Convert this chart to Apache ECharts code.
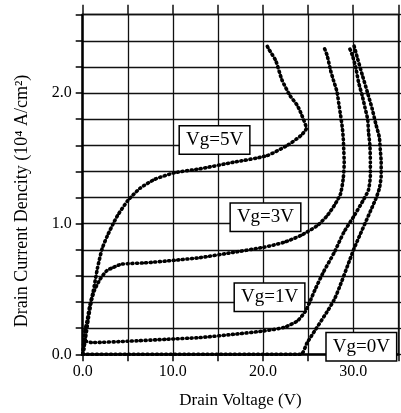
<!DOCTYPE html>
<html>
<head>
<meta charset="utf-8">
<script src="https://cdn.jsdelivr.net/npm/echarts@6/dist/echarts.min.js"></script>
<style>
  html, body { margin: 0; padding: 0; background: #fff; }
  #chart { width: 401px; height: 413px; }
</style>
</head>
<body>
<div id="chart"></div>
<script>
// drain voltage (V) vs drain current density (10^4 A/cm^2)
const vg5 = [
  [0, 0], [0.1, 0.08], [0.23, 0.17], [0.5, 0.26], [0.78, 0.37], [1.16, 0.48],
  [1.64, 0.66], [2.16, 0.81], [2.75, 0.91], [3.38, 1.0], [3.93, 1.07], [5.04, 1.18],
  [6.34, 1.27], [8.0, 1.34], [10.2, 1.39], [13.0, 1.42], [16.7, 1.47], [20.4, 1.52],
  [22.7, 1.6], [24.2, 1.675], [24.8, 1.73], [24.3, 1.83], [23.8, 1.905], [23.0, 1.98],
  [22.1, 2.1], [21.4, 2.25], [20.6, 2.34], [20.4, 2.37]
]
const vg3 = [
  [0, 0], [0.3, 0.12], [0.64, 0.28], [1.0, 0.42], [1.3, 0.49], [1.93, 0.575],
  [2.67, 0.64], [3.4, 0.665], [4.3, 0.69], [6.9, 0.7], [10.2, 0.72], [13.0, 0.74],
  [16.7, 0.78], [20.1, 0.82], [22.3, 0.857], [24.2, 0.91], [26.0, 0.985], [27.1, 1.06],
  [28.0, 1.15], [28.6, 1.23], [28.9, 1.35], [29.0, 1.47], [28.96, 1.55], [28.9, 1.65],
  [28.8, 1.73], [28.6, 1.83], [28.4, 1.92], [28.2, 2.01], [27.8, 2.1], [27.5, 2.17],
  [27.1, 2.29], [26.7, 2.36]
]
const vg1 = [
  [0, 0], [0.15, 0.05], [0.27, 0.1], [1.0, 0.09], [5, 0.1], [9.3, 0.115], [13.0, 0.128],
  [16.7, 0.153], [20.1, 0.179], [22.3, 0.205], [23.8, 0.255], [24.7, 0.33], [25.3, 0.42],
  [25.8, 0.5], [26.7, 0.63], [27.9, 0.78], [28.96, 0.934], [30.1, 1.06], [31.2, 1.19],
  [31.7, 1.26], [31.9, 1.37], [31.9, 1.47], [31.85, 1.6], [31.7, 1.7], [31.6, 1.8],
  [31.3, 1.89], [31.0, 1.98], [30.6, 2.08], [30.3, 2.19], [29.9, 2.29], [29.5, 2.36]
]
const vg0 = [
  [0, 0], [5, 0], [10, 0], [15, 0], [20, 0], [24.2, 0], [24.9, 0.09], [27.9, 0.42],
  [30.1, 0.81], [32.5, 1.19], [32.9, 1.27], [33.1, 1.37], [33.1, 1.47], [33.0, 1.57],
  [32.9, 1.66], [32.5, 1.765], [32.1, 1.88], [31.6, 2.0], [31.0, 2.14], [30.5, 2.26],
  [30.1, 2.36]
]
const curveNames = ['Vg=5V', 'Vg=3V', 'Vg=1V', 'Vg=0V']
// where each boxed name sits, in axis units
const labelAt = [[14.62, 1.64], [20.27, 1.05], [20.72, 0.437], [30.9, 0.057]]
const xTicks = [0, 10, 20, 30]
const yTicks = [0, 1, 2]

const font = 'Liberation Serif'
const chart = echarts.init(document.getElementById('chart'))

const curve = (name, data) => ({
  name,
  type: 'line',
  data,
  smooth: 0.2,
  showSymbol: false,
  lineStyle: { color: '#000', width: 3.6, type: [1, 3.6], cap: 'round' },
  z: 3
})

const option = {
  animation: false,
  backgroundColor: '#fff',
  grid: { left: 82.7, right: 2.7, top: 14.7, bottom: 58.7, outerBoundsMode: 'none' },
  xAxis: [
    {
      type: 'value', min: 0, max: 35, interval: 5, position: 'bottom',
      name: 'Drain Voltage (V)', nameLocation: 'middle', nameGap: 38,
      nameTextStyle: { fontFamily: font, fontSize: 17, color: '#000' },
      axisLine: { onZero: false, lineStyle: { color: '#000', width: 2.5 } },
      axisTick: { length: 7, lineStyle: { color: '#000', width: 1.5 } },
      axisLabel: {
        fontFamily: font, fontSize: 16, color: '#000', margin: 9,
        formatter: v => xTicks.includes(v) ? v.toFixed(1) : ''
      },
      splitLine: { show: true, lineStyle: { color: '#111', width: 1.3 } }
    },
    {
      type: 'value', min: 0, max: 35, interval: 5, position: 'top',
      axisLine: { onZero: false, lineStyle: { color: '#111', width: 1.3 } },
      axisTick: { length: 10, lineStyle: { color: '#111', width: 1.5 } },
      axisLabel: { show: false },
      splitLine: { show: false }
    }
  ],
  yAxis: [
    {
      type: 'value', min: 0, max: 2.6, interval: 0.2, position: 'left',
      name: 'Drain Current Dencity (10⁴ A/cm²)', nameLocation: 'middle', nameGap: 51,
      nameTextStyle: { fontFamily: font, fontSize: 18, color: '#000', padding: [0, 33, 0, 0] },
      axisLine: { onZero: false, lineStyle: { color: '#000', width: 2.5 } },
      axisTick: { length: 7, lineStyle: { color: '#000', width: 1.5 } },
      axisLabel: {
        fontFamily: font, fontSize: 16, color: '#000', margin: 11,
        formatter: v => yTicks.some(t => Math.abs(t - v) < 1e-6) ? v.toFixed(1) : ''
      },
      splitLine: { show: true, lineStyle: { color: '#111', width: 1.3 } }
    },
    {
      type: 'value', min: 0, max: 2.6, interval: 0.2, position: 'right',
      axisLine: { onZero: false, lineStyle: { color: '#111', width: 1.5 } },
      axisTick: { length: 3, lineStyle: { color: '#111', width: 1.3 } },
      axisLabel: { show: false },
      splitLine: { show: false }
    }
  ],
  series: [
    curve(curveNames[0], vg5),
    curve(curveNames[1], vg3),
    curve(curveNames[2], vg1),
    curve(curveNames[3], vg0),
    {
      type: 'scatter',
      data: [],
      z: 10,
      markPoint: {
        symbol: 'rect',
        symbolSize: 0,
        label: {
          show: true,
          position: 'inside',
          formatter: p => p.name,
          fontFamily: font,
          fontSize: 19,
          color: '#000',
          backgroundColor: '#fff',
          borderColor: '#000',
          borderWidth: 1.5,
          padding: [5, 6, 3, 6]
        },
        data: curveNames.map((n, i) => ({ name: n, coord: labelAt[i] }))
      }
    }
  ]
}
chart.setOption(option)
</script>
</body>
</html>
